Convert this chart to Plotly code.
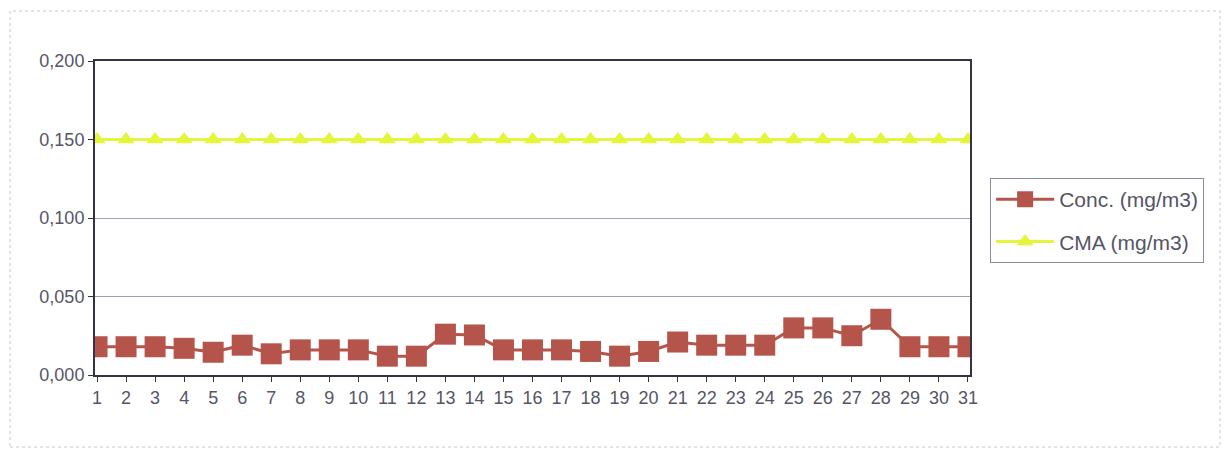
import plotly.graph_objects as go

days = list(range(1, 32))
conc = [0.018, 0.018, 0.018, 0.017, 0.0145, 0.019, 0.0135, 0.016, 0.016, 0.016,
        0.012, 0.012, 0.026, 0.0255, 0.016, 0.016, 0.016, 0.015, 0.012, 0.015,
        0.021, 0.019, 0.019, 0.019, 0.030, 0.030, 0.025, 0.0355, 0.018, 0.018, 0.018]
cma = [0.150] * 31
y_ticks = [0.0, 0.05, 0.10, 0.15, 0.20]

fig = go.Figure()
fig.add_trace(go.Scatter(
    x=days, y=conc, mode="lines+markers", name="Conc. (mg/m3)", legendgroup="a",
    line=dict(color="#b5544a", width=3),
    marker=dict(symbol="square", size=21, color="#b5544a"),
))
fig.add_trace(go.Scatter(
    x=days, y=cma, mode="lines+markers", name="CMA (mg/m3)", legendgroup="b",
    line=dict(color="#e4f53c", width=3),
    marker=dict(symbol="triangle-up", size=15, color="#e4f53c"),
))

# page body has an 8px default margin: compensate so the plot area lands at x 95-970, y 61-375
fig.update_layout(
    width=1231, height=452,
    margin=dict(l=87, r=269, t=53, b=85),
    paper_bgcolor="white", plot_bgcolor="white",
    separators=",.",
    font=dict(family="Liberation Sans, Arial, sans-serif", size=18, color="#555566"),
    showlegend=True,
    legend=dict(
        x=1.023, y=0.627, xanchor="left", yanchor="top",
        bordercolor="#8a8a9a", borderwidth=1, bgcolor="white",
        font=dict(size=21, color="#555566"),
        tracegroupgap=12, itemwidth=58,
    ),
    xaxis=dict(
        range=[0.93, 31.07], tickmode="array", tickvals=days,
        ticktext=[str(d) for d in days],
        showgrid=False, zeroline=False,
        showline=True, linecolor="#333344", linewidth=2, mirror=True,
        ticks="outside", ticklen=5, tickcolor="#333344",
    ),
    yaxis=dict(
        range=[0, 0.2], tickvals=y_ticks, tickformat=".3f",
        showgrid=True, gridcolor="#a49cbc", gridwidth=1, zeroline=False,
        showline=True, linecolor="#333344", linewidth=2, mirror=True,
        ticks="outside", ticklen=5, tickcolor="#333344",
    ),
)

fig.add_shape(type="rect", xref="paper", yref="paper",
              x0=-85/875, x1=1.0 + 250/875, y0=-72/314, y1=1.0 + 50/314,
              line=dict(color="#c8c8d0", width=1, dash="dot"), layer="below")

fig.write_html("out.html")
